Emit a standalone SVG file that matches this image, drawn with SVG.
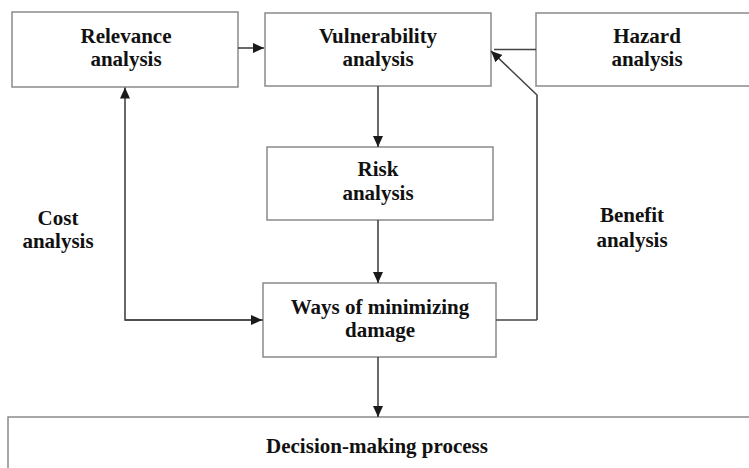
<svg xmlns="http://www.w3.org/2000/svg" width="749" height="468" viewBox="0 0 749 468">
<style>
.box{fill:#fff;stroke:#8a8a8a;stroke-width:1.5}
.lbl{font-family:"Liberation Serif","Times New Roman",serif;font-weight:bold;font-size:21px;fill:#111;text-anchor:middle}
.con{fill:none;stroke:#444;stroke-width:1.6}
</style>
<defs>
<marker id="ah" markerWidth="12" markerHeight="12" refX="11" refY="6" orient="auto" markerUnits="userSpaceOnUse">
<path d="M0,1 L11,6 L0,11 Z" fill="#1a1a1a"/>
</marker>
</defs>
<rect width="749" height="468" fill="#fff"/>
<g id="relevance"><rect class="box" x="12" y="12" width="226" height="75"/><text class="lbl" x="126" y="43">Relevance</text><text class="lbl" x="126" y="66">analysis</text></g>
<g id="vulnerability"><rect class="box" x="265" y="13" width="226" height="73"/><text class="lbl" x="378" y="43">Vulnerability</text><text class="lbl" x="378" y="66">analysis</text></g>
<g id="hazard"><rect class="box" x="536" y="13" width="220" height="73"/><text class="lbl" x="647" y="43">Hazard</text><text class="lbl" x="647" y="66">analysis</text></g>
<g id="risk"><rect class="box" x="267" y="147" width="226" height="73"/><text class="lbl" x="378" y="176">Risk</text><text class="lbl" x="378" y="200">analysis</text></g>
<g id="ways"><rect class="box" x="263" y="283" width="233" height="74"/><text class="lbl" x="380" y="314">Ways of minimizing</text><text class="lbl" x="380" y="337">damage</text></g>
<g id="decision"><rect class="box" x="8" y="417" width="750" height="60"/><text class="lbl" x="377" y="453">Decision-making process</text></g>
<g id="cost"><text class="lbl" x="58" y="225">Cost</text><text class="lbl" x="58" y="248">analysis</text></g>
<g id="benefit"><text class="lbl" x="632" y="222">Benefit</text><text class="lbl" x="632" y="247">analysis</text></g>
<g id="connectors">
<path class="con" d="M238,48 L264,48" stroke-width="2.6" marker-end="url(#ah)"/>
<path class="con" d="M536,49.5 L494,49.5"/>
<path class="con" d="M537,320 L537,95 L491,51" marker-end="url(#ah)"/>
<path class="con" d="M496,320 L537,320"/>
<path class="con" d="M378,86 L378,147" marker-end="url(#ah)"/>
<path class="con" d="M378,220 L378,283" marker-end="url(#ah)"/>
<path class="con" d="M378,357 L378,417" marker-end="url(#ah)"/>
<path class="con" d="M263,320 L125,320 L125,87.5" marker-end="url(#ah)"/>
<path class="con" d="M125,320 L262,320" marker-end="url(#ah)"/>
</g>
</svg>
